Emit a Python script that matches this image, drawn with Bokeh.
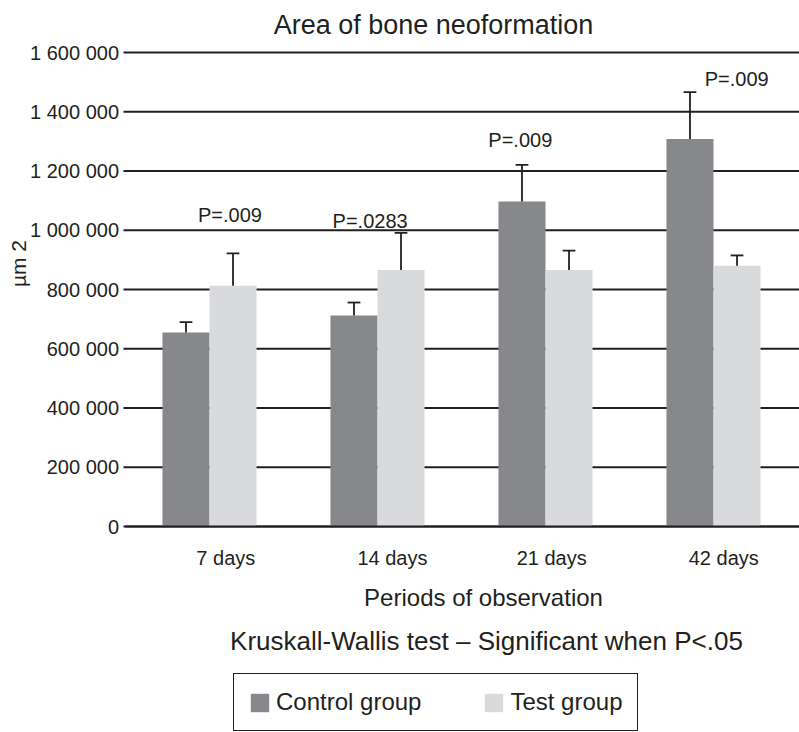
import math
import numpy as np
from bokeh.plotting import figure
from bokeh.models import Range1d, Legend, LegendItem, ColumnDataSource
from bokeh.core.properties import value
from bokeh.embed import file_html
from bokeh.resources import INLINE

# ---------------- data ----------------
periods = ["7 days", "14 days", "21 days", "42 days"]
control_mean = [655000, 712000, 1097000, 1308000]
control_err = [35000, 44000, 124000, 158000]
test_mean = [813000, 866000, 866000, 880000]
test_err = [109000, 125000, 65000, 35000]
p_values = ["P=.009", "P=.0283", "P=.009", "P=.009"]
p_label_x = [0.622, 1.456, 2.350, 3.638]          # category units
p_label_y = [1052600, 1032300, 1305000, 1511100]  # value units (text baseline)
x_label_pos = [0.597, 1.589, 2.537, 3.561]         # where the period labels sit
y_ticks = [0, 200000, 400000, 600000, 800000, 1000000, 1200000, 1400000, 1600000]
y_tick_labels = ["0", "200 000", "400 000", "600 000", "800 000",
                 "1 000 000", "1 200 000", "1 400 000", "1 600 000"]
series_names = ["Control group", "Test group"]

# ---------------- layout / style ----------------
W, H = 799, 732
LEFT_PX, CAT_PX = 125, 168          # plot area left edge, width of a period
ZERO_PX, TOP_PX, YMAX = 526, 52, 1600000
FONT = "Liberation Sans"
INK = "#231f20"
DARK = "#87888b"
LIGHT = "#d9dadb"
BAR_W = 0.28
CAP_W = 0.076


def X(px):
    return (px - LEFT_PX) / CAT_PX


def Y(py):
    return (ZERO_PX - py) * YMAX / (ZERO_PX - TOP_PX)


p = figure(width=W, height=H, output_backend="svg", toolbar_location=None,
           x_range=Range1d(X(0), X(W)), y_range=Range1d(Y(H), Y(0)), title=None,
           x_axis_location=None, y_axis_location=None,
           min_border_left=0, min_border_right=0, min_border_top=0, min_border_bottom=0)
p.outline_line_color = None
p.grid.visible = False
p.background_fill_color = "white"
p.border_fill_color = "white"

n = len(periods)
idx = np.arange(n) + 0.5

# horizontal grid lines with their tick marks
p.segment(x0=[X(123)] * len(y_ticks), y0=y_ticks, x1=[X(W)] * len(y_ticks), y1=y_ticks,
          line_color=INK, line_width=1.8)

# bars
src_c = ColumnDataSource(dict(x=idx - BAR_W / 2, top=control_mean,
                              err=np.array(control_mean) + np.array(control_err)))
src_t = ColumnDataSource(dict(x=idx + BAR_W / 2, top=test_mean,
                              err=np.array(test_mean) + np.array(test_err)))
rc = p.vbar(x="x", top="top", width=BAR_W, bottom=0, source=src_c, fill_color=DARK, line_color=None)
rt = p.vbar(x="x", top="top", width=BAR_W, bottom=0, source=src_t, fill_color=LIGHT, line_color=None)

# category axis line
p.segment(x0=[0], y0=[0], x1=[X(W)], y1=[0], line_color=INK, line_width=2)

# error bars (upper only)
for src in (src_c, src_t):
    d = src.data
    p.segment(x0=d["x"], y0=d["top"], x1=d["x"], y1=d["err"], line_color=INK, line_width=1.8)
    p.segment(x0=d["x"] - CAP_W / 2, y0=d["err"], x1=d["x"] + CAP_W / 2, y1=d["err"],
              line_color=INK, line_width=1.8)

# p-values
p.text(x=p_label_x, y=p_label_y, text=p_values, text_font=value(FONT), text_font_size="20px",
       text_align="center", text_baseline="alphabetic", text_color=INK)

# y tick labels
p.text(x=[X(118.5)] * len(y_ticks), y=y_ticks, text=y_tick_labels, text_font=value(FONT),
       text_font_size="20px", text_align="right", text_baseline="middle", text_color=INK)

# x tick labels
p.text(x=x_label_pos, y=[Y(557)] * n, text=periods, text_font=value(FONT),
       text_font_size="20px", text_align="center", text_baseline="alphabetic", text_color=INK)


def add_text(text, px, py, size, angle=0.0, baseline="alphabetic"):
    p.text(x=[X(px)], y=[Y(py)], text=[text], text_font=value(FONT), text_font_size=size,
           text_color=INK, text_align="center", text_baseline=baseline, angle=angle)


add_text("Area of bone neoformation", 433, 24, "27px")
add_text("µm 2", 18, 263, "21px", angle=math.pi / 2, baseline="middle")
add_text("Periods of observation", 483, 597, "24px")
add_text("Kruskall-Wallis test – Significant when P<.05", 486, 640, "26px")

legend = Legend(items=[LegendItem(label=series_names[0], renderers=[rc]),
                       LegendItem(label=series_names[1], renderers=[rt])],
                orientation="horizontal", location=(233, 1),
                label_text_font=FONT, label_text_font_size="24px", label_text_color=INK,
                glyph_width=23, glyph_height=23, label_standoff=5, spacing=61,
                padding=14, margin=0, border_line_color=INK, border_line_width=1.5,
                border_line_alpha=1.0, background_fill_color="white", background_fill_alpha=1.0)
p.add_layout(legend)

open("out.html", "w").write(file_html(p, INLINE))
